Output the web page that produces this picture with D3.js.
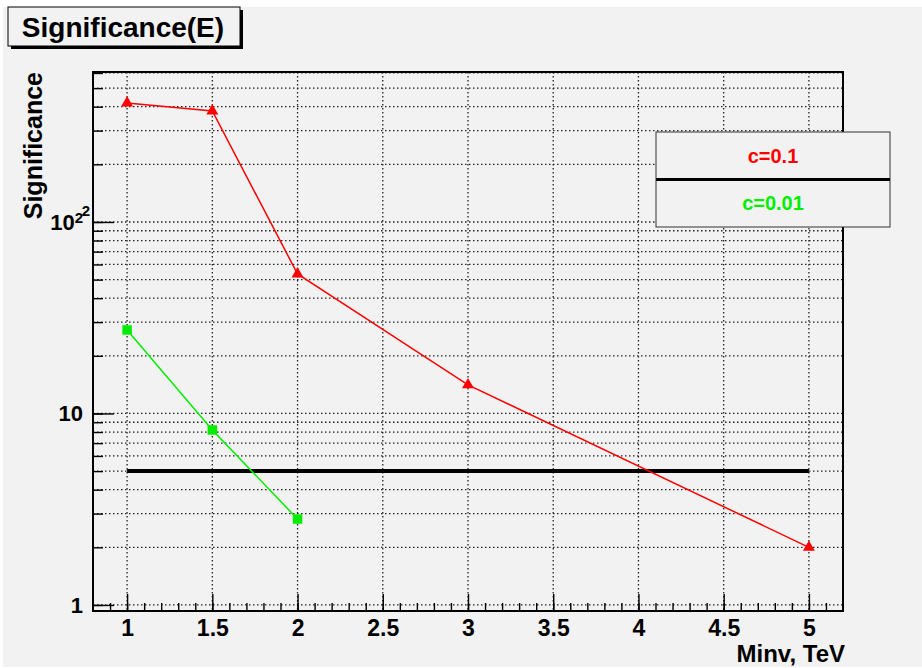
<!DOCTYPE html>
<html>
<head>
<meta charset="utf-8">
<script src="https://cdn.jsdelivr.net/npm/d3@7"></script>
<style>
  body { margin: 0; background: #ffffff; }
  svg { display: block; font-family: "Liberation Sans", Arial, sans-serif; }
</style>
</head>
<body>
<div id="chart"></div>
<script>
// data
let redX = [1, 1.5, 2, 3, 5];
let redY = [418, 380, 53.5, 14.1, 2.0];
let greenX = [1, 1.5, 2];
let greenY = [27.3, 8.2, 2.81];
let limitX = [1, 5];
let limitY = 5;
let xMajorTicks = [1, 1.5, 2, 2.5, 3, 3.5, 4, 4.5, 5];
let yMajorTicks = [1, 10, 100];
let legendLabels = ["c=0.1", "c=0.01"];
let legendColors = ["#ff0000", "#00ee00"];

let w = 922;
let h = 668;
// plot frame edges
let pLeft = 93, pRight = 843, pTop = 72, pBottom = 611;

let viz = d3.select("#chart")
  .append("svg")
  .attr("width", w)
  .attr("height", h);

// canvas background
viz.append("rect")
  .attr("x", 3).attr("y", 7)
  .attr("width", w - 3).attr("height", h - 8)
  .attr("fill", "#f2f2f2");

let xScale = d3.scaleLinear()
  .domain([0.8, 5.2])
  .range([pLeft, pRight]);

let yScale = d3.scaleLog()
  .domain([0.93, 607])
  .range([pBottom, pTop]);

// minor ticks: 0.1 steps on x, 1-9 per decade on y
let xMinor = d3.range(8, 53).map(function (d) { return d / 10; })
  .filter(function (d) { return d > 0.8 && d < 5.2; });
let yMinor = [];
[1, 10, 100].forEach(function (dec) {
  for (let k = 1; k < 10; k++) {
    if (dec * k <= 607) yMinor.push(dec * k);
  }
});

// dotted grid
let grid = viz.append("g").classed("grid", true);
grid.selectAll(".gx")
  .data(xMajorTicks)
  .enter().append("line")
  .attr("x1", function (d) { return xScale(d); })
  .attr("x2", function (d) { return xScale(d); })
  .attr("y1", pTop).attr("y2", pBottom)
  .attr("stroke", "#222")
  .attr("stroke-width", 1.3)
  .attr("stroke-dasharray", "1.5,2.5");
grid.selectAll(".gy")
  .data(yMinor)
  .enter().append("line")
  .attr("x1", pLeft).attr("x2", pRight)
  .attr("y1", function (d) { return yScale(d); })
  .attr("y2", function (d) { return yScale(d); })
  .attr("stroke", "#222")
  .attr("stroke-width", 1.3)
  .attr("stroke-dasharray", "1.5,2.5");

// x axis, ticks pointing inside
let xAxisGroup = viz.append("g")
  .attr("transform", "translate(0," + pBottom + ")");
xAxisGroup.append("g").call(d3.axisBottom(xScale)
  .tickValues(xMinor).tickSize(-8).tickFormat(""));
xAxisGroup.append("g").call(d3.axisBottom(xScale)
  .tickValues(xMajorTicks).tickSize(-17).tickPadding(9)
  .tickFormat(function (d) { return String(d); }));
xAxisGroup.selectAll(".domain").remove();
xAxisGroup.selectAll("line").attr("stroke", "#000").attr("stroke-width", 1.4);
xAxisGroup.selectAll("text")
  .attr("font-size", 23)
  .attr("font-weight", "bold")
  .attr("fill", "#000");

// y axis
let yAxisGroup = viz.append("g")
  .attr("transform", "translate(" + pLeft + ",0)");
yAxisGroup.append("g").call(d3.axisLeft(yScale)
  .tickValues(yMinor).tickSize(-10).tickFormat(""));
yAxisGroup.append("g").call(d3.axisLeft(yScale)
  .tickValues(yMajorTicks).tickSize(-21).tickPadding(10)
  .tickFormat(function (d) { return d === 100 ? "10" : String(d); }));
yAxisGroup.selectAll(".domain").remove();
yAxisGroup.selectAll("line").attr("stroke", "#000").attr("stroke-width", 1.4);
yAxisGroup.selectAll("text")
  .attr("font-size", 22)
  .attr("font-weight", "bold")
  .attr("fill", "#000");
// superscript for 10^2
yAxisGroup.selectAll(".tick")
  .filter(function (d) { return d === 100; })
  .select("text")
  .append("tspan")
  .attr("dy", "-0.45em")
  .attr("font-size", 15)
  .text("2");

// plot frame
viz.append("rect")
  .attr("x", pLeft).attr("y", pTop)
  .attr("width", pRight - pLeft).attr("height", pBottom - pTop)
  .attr("fill", "none")
  .attr("stroke", "#000")
  .attr("stroke-width", 2);

// threshold line at 5
viz.append("line")
  .attr("x1", xScale(limitX[0])).attr("x2", xScale(limitX[1]))
  .attr("y1", yScale(limitY)).attr("y2", yScale(limitY))
  .attr("stroke", "#000")
  .attr("stroke-width", 4);

let line = d3.line()
  .x(function (d) { return xScale(d[0]); })
  .y(function (d) { return yScale(d[1]); });

let redData = d3.zip(redX, redY);
let greenData = d3.zip(greenX, greenY);

viz.append("path")
  .datum(redData)
  .attr("d", line)
  .attr("fill", "none")
  .attr("stroke", "#ff0000")
  .attr("stroke-width", 1.5);
viz.append("path")
  .datum(greenData)
  .attr("d", line)
  .attr("fill", "none")
  .attr("stroke", "#00ee00")
  .attr("stroke-width", 1.5);

viz.selectAll(".redpt")
  .data(redData)
  .enter().append("path")
  .attr("d", d3.symbol().type(d3.symbolTriangle).size(62))
  .attr("transform", function (d) {
    return "translate(" + xScale(d[0]) + "," + yScale(d[1]) + ")";
  })
  .attr("fill", "#ff0000");
viz.selectAll(".greenpt")
  .data(greenData)
  .enter().append("path")
  .attr("d", d3.symbol().type(d3.symbolSquare).size(90))
  .attr("transform", function (d) {
    return "translate(" + xScale(d[0]) + "," + yScale(d[1]) + ")";
  })
  .attr("fill", "#00ee00");

// axis titles
viz.append("text")
  .attr("transform", "translate(42,72) rotate(-90)")
  .attr("text-anchor", "end")
  .attr("font-size", 25)
  .attr("font-weight", "bold")
  .text("Significance");
viz.append("text")
  .attr("x", 845).attr("y", 662)
  .attr("text-anchor", "end")
  .attr("font-size", 24)
  .attr("font-weight", "bold")
  .text("Minv, TeV");

// title box with shadow
viz.append("rect")
  .attr("x", 11).attr("y", 10)
  .attr("width", 232).attr("height", 39)
  .attr("fill", "#000");
viz.append("rect")
  .attr("x", 8).attr("y", 7)
  .attr("width", 232).attr("height", 39)
  .attr("fill", "#f2f2f2")
  .attr("stroke", "#000")
  .attr("stroke-width", 1);
viz.append("text")
  .attr("x", 123).attr("y", 37)
  .attr("text-anchor", "middle")
  .attr("font-size", 28)
  .attr("font-weight", "bold")
  .text("Significance(E)");

// legend
let lx = 656, ly = 132, lw = 234, rowH = 47.5;
let legend = viz.append("g");
legend.append("rect")
  .attr("x", lx).attr("y", ly)
  .attr("width", lw).attr("height", rowH * 2)
  .attr("fill", "#f2f2f2")
  .attr("stroke", "#333")
  .attr("stroke-width", 1);
legend.append("line")
  .attr("x1", lx).attr("x2", lx + lw)
  .attr("y1", ly + rowH).attr("y2", ly + rowH)
  .attr("stroke", "#000")
  .attr("stroke-width", 3);
legend.selectAll(".lab")
  .data(legendLabels)
  .enter().append("text")
  .attr("x", lx + lw / 2)
  .attr("y", function (d, i) { return ly + rowH * i + rowH / 2 + 7; })
  .attr("text-anchor", "middle")
  .attr("font-size", 20)
  .attr("font-weight", "bold")
  .attr("fill", function (d, i) { return legendColors[i]; })
  .text(function (d) { return d; });
</script>
</body>
</html>
